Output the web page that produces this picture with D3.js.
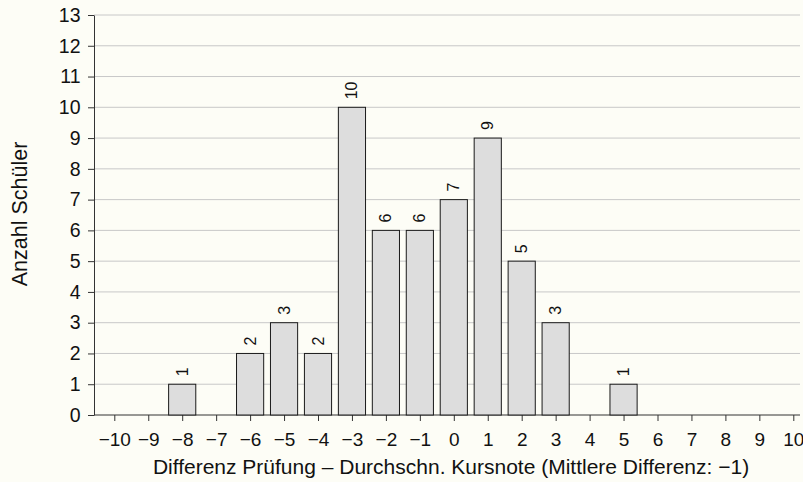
<!DOCTYPE html>
<html>
<head>
<meta charset="utf-8">
<script src="https://cdn.jsdelivr.net/npm/d3@7"></script>
<style>
  body { margin: 0; background: #fdfdf6; }
  svg { display: block; font-family: "Liberation Sans", Arial, sans-serif; }
</style>
</head>
<body>
<div id="chart"></div>
<script>
const diffs = [-8, -6, -5, -4, -3, -2, -1, 0, 1, 2, 3, 5];
const counts = [1, 2, 3, 2, 10, 6, 6, 7, 9, 5, 3, 1];
const xTicks = d3.range(-10, 11);
const yTicks = d3.range(0, 14);
const xTitle = "Differenz Prüfung \u2013 Durchschn. Kursnote (Mittlere Differenz: \u22121)";
const yTitle = "Anzahl Schüler";

const W = 803, H = 482;
const mLeft = 94, mRight = 800, mTop = 15, mBottom = 415;
const FONT = "Liberation Sans, Arial, sans-serif";

const svg = d3.select("#chart").append("svg")
  .attr("width", W).attr("height", H);

svg.append("rect").attr("width", W).attr("height", H).attr("fill", "#fdfdf6");

const x = d3.scaleLinear().domain([-10, 10]).range([114.3, 793.3]);
const y = d3.scaleLinear().domain([0, 13]).range([mBottom, mTop]);

// grid
svg.append("g").selectAll("line")
  .data(yTicks.filter(d => d > 0))
  .enter().append("line")
  .attr("x1", mLeft).attr("x2", mRight)
  .attr("y1", d => y(d)).attr("y2", d => y(d))
  .attr("stroke", "#c8c8c8").attr("stroke-width", 1);

const fmt = d => d < 0 ? "\u2212" + Math.abs(d) : String(d);

// y axis
const yAxis = svg.append("g")
  .attr("transform", `translate(${mLeft},0)`)
  .call(d3.axisLeft(y).tickValues(yTicks).tickSize(6).tickSizeOuter(0).tickPadding(7.5));
yAxis.attr("font-family", FONT).attr("font-size", 19.5);
yAxis.select(".domain").attr("stroke", "#333");
yAxis.selectAll(".tick line").attr("stroke", "#333");
yAxis.selectAll("text").attr("fill", "#111");

// x axis
const xAxis = svg.append("g")
  .attr("transform", `translate(0,${mBottom})`)
  .call(d3.axisBottom(x).tickValues(xTicks).tickFormat(fmt).tickSize(6).tickSizeOuter(0).tickPadding(12));
xAxis.attr("font-family", FONT).attr("font-size", 19);
xAxis.select(".domain").attr("d", `M${mLeft},0H${mRight}`).attr("stroke", "#333");
xAxis.selectAll(".tick line").attr("stroke", "#333");
xAxis.selectAll("text").attr("fill", "#111");

// bars
const bw = (x(1) - x(0)) * 0.8;
svg.append("g").selectAll("rect")
  .data(diffs)
  .enter().append("rect")
  .attr("x", d => x(d) - bw / 2)
  .attr("y", (d, i) => y(counts[i]))
  .attr("width", bw)
  .attr("height", (d, i) => y(0) - y(counts[i]))
  .attr("fill", "#dddddd")
  .attr("stroke", "#1a1a1a")
  .attr("stroke-width", 1);

// value labels
svg.append("g").selectAll("text")
  .data(diffs)
  .enter().append("text")
  .attr("transform", (d, i) => `translate(${x(d) + 5.5},${y(counts[i]) - 8}) rotate(-90)`)
  .attr("font-family", FONT)
  .attr("font-size", 16)
  .attr("fill", "#111")
  .text((d, i) => counts[i]);

// titles
svg.append("text")
  .attr("x", 451).attr("y", 474)
  .attr("text-anchor", "middle").attr("font-family", FONT).attr("font-size", 21)
  .attr("fill", "#111")
  .text(xTitle);

svg.append("text")
  .attr("transform", `translate(27,214) rotate(-90)`)
  .attr("text-anchor", "middle").attr("font-family", FONT).attr("font-size", 21.5)
  .attr("fill", "#111")
  .text(yTitle);
</script>
</body>
</html>
